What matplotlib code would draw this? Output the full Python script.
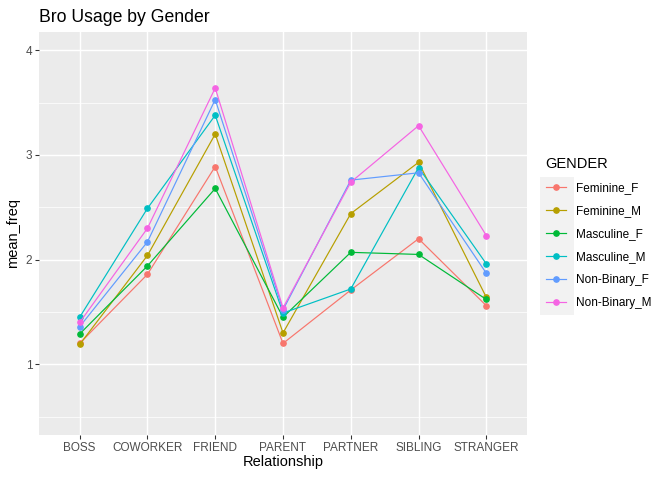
import numpy as np
import matplotlib
matplotlib.use("Agg")
import matplotlib.pyplot as plt
from matplotlib.patches import Rectangle

plt.rcParams["font.family"] = ["Liberation Sans", "DejaVu Sans"]

relationships = ["BOSS", "COWORKER", "FRIEND", "PARENT", "PARTNER", "SIBLING", "STRANGER"]
genders = ["Feminine_F", "Feminine_M", "Masculine_F", "Masculine_M", "Non-Binary_F", "Non-Binary_M"]
colors = ["#F8766D", "#B79F00", "#00BA38", "#00BFC4", "#619CFF", "#F564E3"]

feminine_f = [1.20, 1.86, 2.89, 1.20, 1.71, 2.20, 1.56]
feminine_m = [1.19, 2.04, 3.20, 1.30, 2.44, 2.93, 1.64]
masculine_f = [1.29, 1.94, 2.68, 1.45, 2.07, 2.05, 1.62]
masculine_m = [1.45, 2.49, 3.38, 1.49, 1.72, 2.88, 1.96]
nonbinary_f = [1.36, 2.17, 3.53, 1.52, 2.76, 2.83, 1.87]
nonbinary_m = [1.40, 2.30, 3.64, 1.54, 2.74, 3.28, 2.23]
series = [feminine_f, feminine_m, masculine_f, masculine_m, nonbinary_f, nonbinary_m]

fig = plt.figure(figsize=(7, 5), dpi=96)
ax = fig.add_axes([39 / 672, 1 - 435 / 480, (527 - 39) / 672, (435 - 32) / 480])
ax.set_facecolor("#EBEBEB")

x = np.arange(len(relationships))
handles = []
for vals, col, name in zip(series, colors, genders):
    h, = ax.plot(x, vals, color=col, lw=0.9, marker="o", ms=4.0, mec=col, label=name, zorder=3)
    handles.append(h)

ax.set_xlim(-0.6, 6.6)
ax.set_ylim(0.325, 4.175)
ax.set_xticks(x)
ax.set_xticklabels(relationships)
ax.set_yticks([1, 2, 3, 4])
ax.set_yticks([0.5, 1.5, 2.5, 3.5], minor=True)
ax.grid(True, which="major", color="white", lw=1.1)
ax.grid(True, which="minor", color="white", lw=0.55)
ax.set_axisbelow(True)
for s in ax.spines.values():
    s.set_visible(False)
ax.tick_params(which="major", length=3, color="#333333", labelsize=8.8, labelcolor="#4D4D4D", pad=2)
ax.tick_params(which="minor", length=0)

ax.set_xlabel("Relationship", fontsize=11, labelpad=1)
ax.set_ylabel("mean_freq", fontsize=11, labelpad=4)
fig.text(39 / 672, 1 - 17 / 480, "Bro Usage by Gender", fontsize=13.2, va="center", ha="left")

fig.patches.append(Rectangle((540 / 672, 1 - 315 / 480), 34 / 672, 138 / 480,
                             transform=fig.transFigure, facecolor="#F2F2F2", edgecolor="none", zorder=0))
leg = fig.legend(handles=handles, loc="upper left", bbox_to_anchor=(535 / 672, 1 - 146 / 480),
                 frameon=False, title="GENDER", fontsize=8.8, title_fontsize=11,
                 handlelength=1.7, handletextpad=0.9, labelspacing=0.95, alignment="left")

fig.savefig("out.png", dpi=96)
